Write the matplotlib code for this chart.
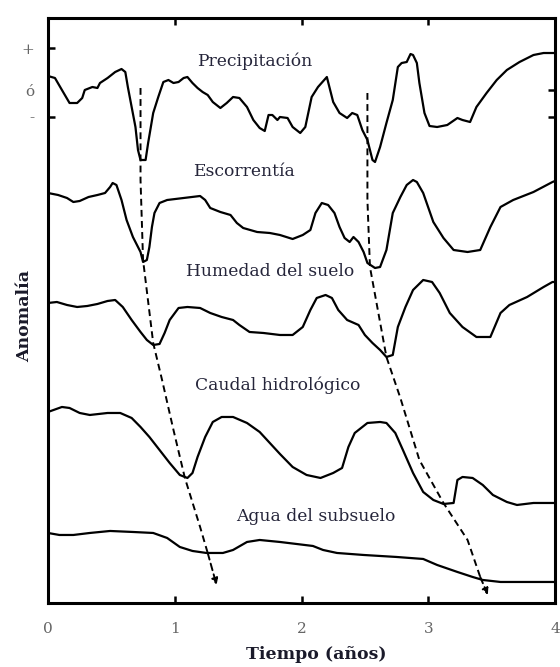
import matplotlib
matplotlib.use("Agg")
import matplotlib.pyplot as plt

# ---------------- data (x in years, y = anomaly on a shared stacked scale) ----------------
precip_x = [0.0, 0.055, 0.11, 0.17, 0.23, 0.27, 0.29, 0.35, 0.39, 0.41, 0.47, 0.53, 0.58, 0.61, 0.63,
            0.66, 0.69, 0.71, 0.73, 0.77, 0.79, 0.83, 0.87, 0.91, 0.95, 0.99, 1.03, 1.07, 1.10, 1.14,
            1.18, 1.22, 1.26, 1.30, 1.36, 1.41, 1.46, 1.51, 1.57, 1.62, 1.67, 1.71, 1.74, 1.77, 1.81,
            1.83, 1.89, 1.93, 1.99, 2.03, 2.08, 2.13, 2.20, 2.22, 2.25, 2.30, 2.36, 2.40, 2.44, 2.48,
            2.52, 2.56, 2.58, 2.62, 2.67, 2.72, 2.76, 2.79, 2.83, 2.86, 2.88, 2.91, 2.93, 2.97, 3.01,
            3.07, 3.15, 3.23, 3.27, 3.33, 3.38, 3.46, 3.54, 3.62, 3.72, 3.83, 3.91, 3.98, 4.0]
precip_y = [5.27, 5.25, 5.13, 5.00, 5.00, 5.05, 5.13, 5.16, 5.15, 5.20, 5.25, 5.31, 5.34, 5.31, 5.16,
            4.96, 4.76, 4.53, 4.43, 4.43, 4.60, 4.90, 5.06, 5.21, 5.23, 5.20, 5.21, 5.25, 5.26, 5.20,
            5.15, 5.11, 5.08, 5.01, 4.95, 5.00, 5.06, 5.05, 4.96, 4.83, 4.75, 4.72, 4.88, 4.88, 4.83,
            4.86, 4.85, 4.76, 4.70, 4.76, 5.06, 5.16, 5.26, 5.16, 5.01, 4.90, 4.85, 4.90, 4.88, 4.73,
            4.63, 4.43, 4.41, 4.56, 4.80, 5.03, 5.36, 5.40, 5.41, 5.49, 5.48, 5.40, 5.20, 4.90, 4.77,
            4.76, 4.78, 4.85, 4.83, 4.81, 4.96, 5.10, 5.23, 5.33, 5.41, 5.48, 5.50, 5.50, 5.50]

runoff_x = [0.0, 0.08, 0.15, 0.20, 0.25, 0.32, 0.39, 0.45, 0.49, 0.51, 0.54, 0.58, 0.62, 0.67, 0.73,
            0.75, 0.78, 0.80, 0.82, 0.84, 0.88, 0.94, 1.07, 1.20, 1.24, 1.28, 1.36, 1.44, 1.49, 1.54,
            1.65, 1.75, 1.83, 1.93, 2.01, 2.07, 2.11, 2.16, 2.21, 2.26, 2.30, 2.34, 2.38, 2.41, 2.45,
            2.49, 2.52, 2.58, 2.62, 2.67, 2.72, 2.78, 2.83, 2.88, 2.91, 2.96, 3.04, 3.12, 3.20, 3.31,
            3.41, 3.49, 3.57, 3.67, 3.83, 3.98, 4.0]
runoff_y = [4.10, 4.08, 4.05, 4.01, 4.02, 4.06, 4.08, 4.10, 4.16, 4.20, 4.18, 4.03, 3.83, 3.66, 3.51,
            3.41, 3.43, 3.56, 3.76, 3.90, 4.00, 4.03, 4.05, 4.07, 4.03, 3.95, 3.91, 3.88, 3.80, 3.75,
            3.71, 3.70, 3.68, 3.64, 3.68, 3.73, 3.90, 4.00, 3.98, 3.90, 3.76, 3.65, 3.61, 3.66, 3.61,
            3.51, 3.40, 3.35, 3.36, 3.53, 3.90, 4.06, 4.18, 4.23, 4.21, 4.10, 3.81, 3.65, 3.53, 3.51,
            3.53, 3.76, 3.96, 4.03, 4.11, 4.21, 4.22]

soil_x = [0.0, 0.07, 0.15, 0.23, 0.31, 0.39, 0.47, 0.53, 0.59, 0.66, 0.73, 0.78, 0.83, 0.88, 0.92,
          0.96, 1.03, 1.10, 1.20, 1.28, 1.37, 1.46, 1.51, 1.59, 1.70, 1.83, 1.93, 2.01, 2.07, 2.12,
          2.19, 2.24, 2.29, 2.36, 2.45, 2.50, 2.56, 2.62, 2.67, 2.72, 2.76, 2.82, 2.88, 2.96, 3.03,
          3.09, 3.17, 3.27, 3.38, 3.49, 3.57, 3.64, 3.78, 3.91, 3.98, 4.0]
soil_y = [3.00, 3.01, 2.98, 2.96, 2.97, 2.99, 3.02, 3.03, 2.96, 2.83, 2.71, 2.63, 2.58, 2.59, 2.70,
          2.83, 2.95, 2.96, 2.95, 2.90, 2.86, 2.83, 2.78, 2.71, 2.70, 2.68, 2.68, 2.76, 2.93, 3.05,
          3.08, 3.05, 2.93, 2.83, 2.78, 2.68, 2.60, 2.53, 2.46, 2.48, 2.76, 2.96, 3.13, 3.23, 3.21,
          3.10, 2.90, 2.76, 2.66, 2.66, 2.90, 2.98, 3.06, 3.16, 3.21, 3.21]

flow_x = [0.0, 0.11, 0.17, 0.25, 0.33, 0.47, 0.57, 0.66, 0.73, 0.80, 0.88, 0.96, 1.04, 1.10, 1.14,
          1.18, 1.24, 1.30, 1.37, 1.46, 1.57, 1.67, 1.75, 1.83, 1.93, 2.04, 2.15, 2.25, 2.32, 2.37,
          2.42, 2.52, 2.62, 2.67, 2.74, 2.80, 2.88, 2.96, 3.04, 3.12, 3.20, 3.23, 3.27, 3.35, 3.43,
          3.51, 3.62, 3.70, 3.83, 3.98, 4.0]
flow_y = [1.91, 1.96, 1.95, 1.90, 1.88, 1.90, 1.90, 1.85, 1.76, 1.66, 1.53, 1.40, 1.28, 1.25, 1.30,
          1.46, 1.66, 1.81, 1.86, 1.86, 1.80, 1.71, 1.60, 1.49, 1.36, 1.28, 1.25, 1.30, 1.35, 1.56,
          1.70, 1.80, 1.81, 1.80, 1.70, 1.53, 1.30, 1.11, 1.03, 0.99, 1.00, 1.23, 1.26, 1.25, 1.18,
          1.08, 1.01, 0.98, 1.00, 1.00, 1.00]

ground_x = [0.0, 0.09, 0.20, 0.33, 0.49, 0.67, 0.83, 0.94, 1.04, 1.14, 1.25, 1.38, 1.46, 1.57, 1.67,
            1.83, 1.96, 2.09, 2.17, 2.28, 2.49, 2.75, 2.96, 3.07, 3.23, 3.35, 3.43, 3.57, 3.72, 3.98, 4.0]
ground_y = [0.70, 0.68, 0.68, 0.70, 0.72, 0.71, 0.70, 0.65, 0.56, 0.52, 0.50, 0.50, 0.53, 0.61, 0.63,
            0.61, 0.59, 0.57, 0.53, 0.50, 0.48, 0.46, 0.44, 0.38, 0.31, 0.26, 0.23, 0.21, 0.21, 0.21, 0.21]

arrow1_x = [0.73, 0.73, 0.75, 0.83, 0.90, 0.99, 1.08, 1.20, 1.26, 1.33]
arrow1_y = [5.15, 4.23, 3.43, 2.60, 2.23, 1.73, 1.25, 0.76, 0.50, 0.18]
arrow2_x = [2.52, 2.52, 2.54, 2.67, 2.78, 2.93, 3.12, 3.31, 3.41, 3.47]
arrow2_y = [5.10, 4.03, 3.36, 2.46, 2.05, 1.43, 1.00, 0.63, 0.26, 0.08]

series_labels = ["Precipitación", "Escorrentía", "Humedad del suelo", "Caudal hidrológico", "Agua del subsuelo"]
label_x = [1.63, 1.55, 1.75, 1.81, 2.11]
label_y = [5.42, 4.31, 3.31, 2.18, 0.86]

x_ticks = [0, 1, 2, 3, 4]
x_ticklabels = ["0", "1", "2", "3", "4"]
y_ticks = [5.55, 5.13, 4.86]
y_ticklabels = ["+", "ó", "-"]

# ---------------- figure ----------------
fig = plt.figure(figsize=(5.6, 6.67), dpi=100)
ax = fig.add_axes([0.0857, 0.096, 0.9054, 0.877])
ax.set_xlim(0, 4)
ax.set_ylim(0, 5.85)

line_kw = dict(color="black", lw=1.6, solid_joinstyle="round", solid_capstyle="round")
for xs, ys in [(precip_x, precip_y), (runoff_x, runoff_y), (soil_x, soil_y),
               (flow_x, flow_y), (ground_x, ground_y)]:
    ax.plot(xs, ys, **line_kw)

for ax_, ay_ in [(arrow1_x, arrow1_y), (arrow2_x, arrow2_y)]:
    ax.plot(ax_[:-1], ay_[:-1], color="black", lw=1.4, ls=(0, (3.5, 2.2)))
    ax.annotate("", xy=(ax_[-1], ay_[-1]), xytext=(ax_[-2], ay_[-2]),
                arrowprops=dict(arrowstyle="-|>", color="black", lw=1.4,
                                linestyle=(0, (3.5, 2.2)), mutation_scale=9,
                                shrinkA=0, shrinkB=0))

serif = ["DejaVu Serif"]
for lab, lx, ly in zip(series_labels, label_x, label_y):
    ax.text(lx, ly, lab, ha="center", va="center", fontsize=12.3,
            family=serif, color="#25253a")

for s in ax.spines.values():
    s.set_linewidth(2.2)

ax.set_xticks(x_ticks)
ax.set_xticklabels(x_ticklabels, family=serif, fontsize=11, color="#666666")
ax.set_yticks(y_ticks)
ax.set_yticklabels(y_ticklabels, family=serif, fontsize=11, color="#666666")
ax.tick_params(axis="both", direction="in", length=5, width=1.8, top=True, right=True)
ax.tick_params(axis="x", pad=14)
ax.tick_params(axis="y", pad=10)

yt = ax.yaxis.get_major_ticks()
yt[1].tick1line.set_visible(False)
yt[0].tick2line.set_visible(False)

ax.set_xlabel("Tiempo (años)", family=serif, fontsize=12.5, fontweight="bold",
              color="#1a1a2a")
ax.set_ylabel("Anomalía", family=serif, fontsize=12.5, fontweight="bold",
              color="#1a1a2a")
ax.xaxis.set_label_coords(0.53, -0.073)
ax.yaxis.set_label_coords(-0.03, 0.49)

fig.savefig("out.png", dpi=100)
